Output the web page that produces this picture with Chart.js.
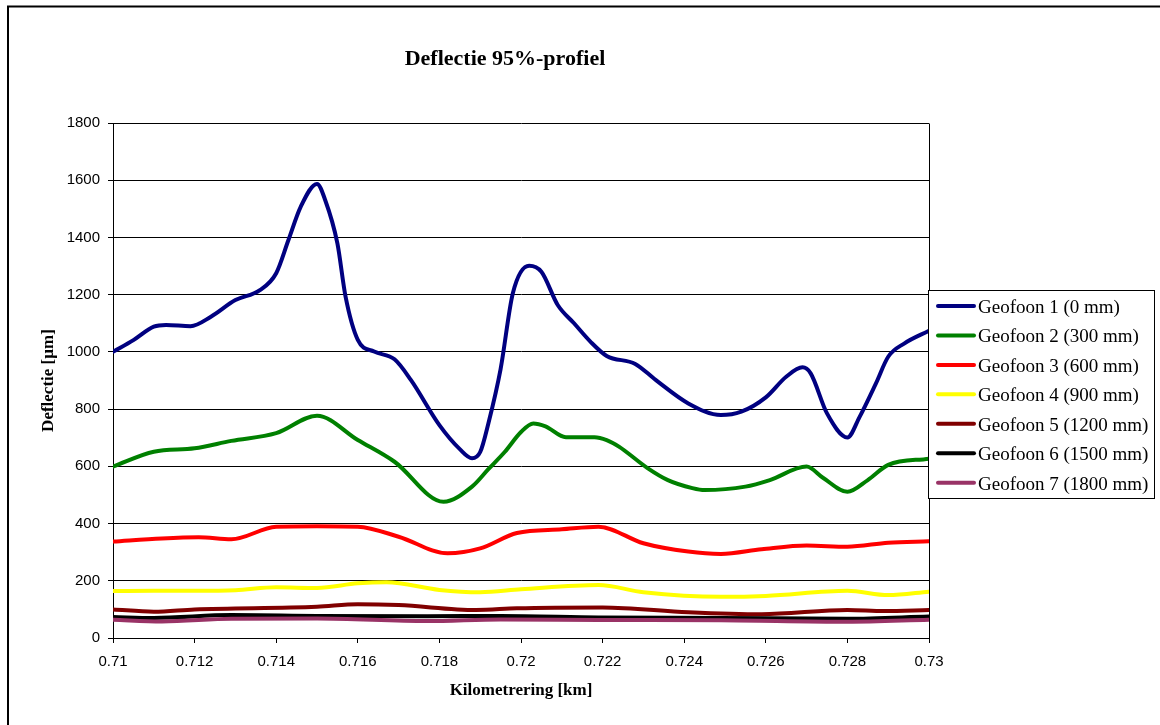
<!DOCTYPE html>
<html>
<head>
<meta charset="utf-8">
<title>Deflectie 95%-profiel</title>
<script src="https://cdn.jsdelivr.net/npm/chart.js@4/dist/chart.umd.min.js"></script>
<style>
  html, body { margin: 0; padding: 0; background: #ffffff; }
  canvas { display: block; }
</style>
</head>
<body>
<canvas id="chart" width="1160" height="725"></canvas>
<script>
// Axis ticks
const xTicks = [0.710, 0.712, 0.714, 0.716, 0.718, 0.720, 0.722, 0.724, 0.726, 0.728, 0.730];
const yTicks = [0, 200, 400, 600, 800, 1000, 1200, 1400, 1600, 1800];

// Geofoon 1 (0 mm)
const geo1Km = [0.7100, 0.7105, 0.7110, 0.7113, 0.7119, 0.7124, 0.7130, 0.7136, 0.7140, 0.7143,
                0.7146, 0.7150, 0.7152, 0.7155, 0.7157, 0.7160, 0.7164, 0.7169, 0.7173, 0.7180,
                0.7185, 0.7188, 0.7190, 0.7192, 0.7195, 0.7198, 0.7202, 0.7205, 0.7209,
                0.7213, 0.7217, 0.7221, 0.7228, 0.7233, 0.7241, 0.7249, 0.7254, 0.7260, 0.7265,
                0.7269, 0.7271, 0.7275, 0.7280, 0.7283, 0.7287, 0.7290, 0.7294, 0.7300];
const geo1Val = [1000, 1041, 1088, 1094, 1090, 1123, 1181, 1216, 1275, 1391,
                 1507, 1587, 1531, 1379, 1193, 1042, 1001, 974, 902, 744,
                 660, 628, 650, 750, 940, 1205, 1301, 1280, 1164,
                 1100, 1036, 986, 958, 902, 820, 779, 791, 841, 913,
                 946, 925, 785, 701, 773, 890, 983, 1030, 1074];

// Geofoon 2 (300 mm)
const geo2Km = [0.7100, 0.7110, 0.7120, 0.7129, 0.7140, 0.7150, 0.7160, 0.7169, 0.7181, 0.7188,
                0.7192, 0.7196, 0.7200, 0.7203, 0.7206, 0.7211, 0.7218, 0.7221, 0.7224, 0.7231,
                0.7236, 0.7242, 0.7245, 0.7255, 0.7261, 0.7270, 0.7274, 0.7280, 0.7285, 0.7290,
                0.7300];
const geo2Val = [599, 651, 663, 689, 716, 777, 692, 616, 476, 529,
                 590, 650, 720, 750, 740, 702, 702, 692, 669, 594,
                 552, 524, 517, 529, 552, 599, 560, 511, 552, 605,
                 627];

// Geofoon 3 (600 mm)
const geo3Km = [0.7100, 0.7112, 0.7121, 0.7129, 0.7140, 0.7150, 0.7160, 0.7170, 0.7182, 0.7190,
                0.7199, 0.7210, 0.7219, 0.7230, 0.7241, 0.7249, 0.7259, 0.7270, 0.7280, 0.7290,
                0.7300];
const geo3Val = [337, 348, 352, 345, 389, 391, 389, 354, 296, 313,
                 367, 380, 389, 331, 302, 294, 310, 323, 319, 333,
                 338];

// Geofoon 4 (900 mm)
const geo4Km = [0.7100, 0.7110, 0.7120, 0.7130, 0.7140, 0.7150, 0.7160, 0.7167, 0.7180, 0.7190,
                0.7200, 0.7219, 0.7230, 0.7249, 0.7260, 0.7280, 0.7290, 0.7300];
const geo4Val = [164, 165, 165, 167, 177, 175, 191, 195, 168, 160,
                 170, 185, 160, 144, 147, 165, 150, 162];

// Geofoon 5 (1200 mm)
const geo5Km = [0.7100, 0.7110, 0.7120, 0.7150, 0.7160, 0.7170, 0.7189, 0.7199, 0.7220, 0.7241,
                0.7259, 0.7280, 0.7289, 0.7300];
const geo5Val = [100, 92, 100, 109, 118, 115, 98, 104, 107, 90,
                 83, 98, 94, 98];

// Geofoon 6 (1500 mm)
const geo6Km = [0.7100, 0.7110, 0.7129, 0.7150, 0.7177, 0.7195, 0.7219, 0.7249, 0.7280, 0.7300];
const geo6Val = [73, 70, 80, 77, 76, 77, 72, 70, 67, 75];

// Geofoon 7 (1800 mm)
const geo7Km = [0.7100, 0.7112, 0.7129, 0.7150, 0.7177, 0.7195, 0.7219, 0.7249, 0.7280, 0.7300];
const geo7Val = [64, 58, 67, 68, 59, 65, 63, 62, 57, 64];

const seriesNames = [
  'Geofoon 1 (0 mm)', 'Geofoon 2 (300 mm)', 'Geofoon 3 (600 mm)', 'Geofoon 4 (900 mm)',
  'Geofoon 5 (1200 mm)', 'Geofoon 6 (1500 mm)', 'Geofoon 7 (1800 mm)'
];
const seriesKm = [geo1Km, geo2Km, geo3Km, geo4Km, geo5Km, geo6Km, geo7Km];
const seriesVal = [geo1Val, geo2Val, geo3Val, geo4Val, geo5Val, geo6Val, geo7Val];
const seriesColors = ['#000080', '#008000', '#ff0000', '#ffff00', '#800000', '#000000', '#993366'];

const SERIF = "'Liberation Serif', 'Times New Roman', serif";
const SANS = "'Liberation Sans', Arial, sans-serif";

const datasets = seriesNames.map((name, i) => ({
  label: name,
  data: seriesKm[i].map((km, j) => ({ x: km, y: seriesVal[i][j] })),
  borderColor: seriesColors[i],
  backgroundColor: seriesColors[i],
  borderWidth: 4,
  borderJoinStyle: 'round',
  borderCapStyle: 'round',
  cubicInterpolationMode: 'monotone',
  pointRadius: 0,
  fill: false,
  order: seriesNames.length - i
}));

// Frame, chart title and the boxed legend on the right
const decor = {
  id: 'decor',
  beforeDraw(chart) {
    const ctx = chart.ctx;
    ctx.save();
    ctx.fillStyle = '#ffffff';
    ctx.fillRect(0, 0, chart.width, chart.height);
    ctx.strokeStyle = '#000000';
    ctx.lineWidth = 2;
    ctx.beginPath();
    ctx.moveTo(8, chart.height + 2);
    ctx.lineTo(8, 6.5);
    ctx.lineTo(chart.width + 2, 6.5);
    ctx.stroke();
    ctx.restore();
  },
  afterDraw(chart) {
    const ctx = chart.ctx;
    const a = chart.chartArea;
    ctx.save();
    // plot-area frame on the right
    ctx.strokeStyle = '#000000';
    ctx.lineWidth = 1;
    ctx.beginPath();
    ctx.moveTo(Math.round(a.right) + 0.5, Math.round(a.top) + 0.5);
    ctx.lineTo(Math.round(a.right) + 0.5, Math.round(a.bottom) + 0.5);
    ctx.stroke();

    // title
    ctx.fillStyle = '#000000';
    ctx.font = 'bold 22px ' + SERIF;
    ctx.textAlign = 'center';
    ctx.textBaseline = 'alphabetic';
    ctx.fillText('Deflectie 95%-profiel', 505, 65);

    // legend
    const lx = 928.5, ly = 290.5, lw = 226, lh = 208;
    ctx.fillStyle = '#ffffff';
    ctx.fillRect(lx, ly, lw, lh);
    ctx.strokeStyle = '#000000';
    ctx.lineWidth = 1;
    ctx.strokeRect(lx, ly, lw, lh);
    ctx.font = '19px ' + SERIF;
    ctx.textAlign = 'left';
    chart.data.datasets.forEach((ds, i) => {
      const y = 306 + i * 29.45;
      ctx.strokeStyle = ds.borderColor;
      ctx.lineWidth = 4;
      ctx.lineCap = 'round';
      ctx.beginPath();
      ctx.moveTo(938, y);
      ctx.lineTo(974, y);
      ctx.stroke();
      ctx.fillStyle = '#000000';
      ctx.fillText(ds.label, 978, y + 7);
    });
    ctx.restore();
  }
};

const PAD_LEFT = 20, PAD_BOTTOM = 10;

new Chart(document.getElementById('chart'), {
  type: 'line',
  data: { datasets },
  options: {
    responsive: false,
    animation: false,
    devicePixelRatio: 1,
    layout: { padding: { left: PAD_LEFT, right: 231, top: 123, bottom: PAD_BOTTOM } },
    plugins: {
      legend: { display: false },
      title: { display: false },
      tooltip: { enabled: false }
    },
    scales: {
      x: {
        type: 'linear',
        min: 0.71,
        max: 0.73,
        afterBuildTicks: (s) => { s.ticks = xTicks.map(v => ({ value: v })); },
        afterFit: (s) => { s.height = 725 - PAD_BOTTOM - 638; },
        grid: { drawOnChartArea: false, drawTicks: true, tickLength: 5, color: '#000000', lineWidth: 1 },
        border: { display: true, color: '#000000', width: 1 },
        ticks: {
          autoSkip: false,
          maxRotation: 0,
          padding: 10,
          color: '#000000',
          font: { family: SANS, size: 15 },
          callback: (v) => String(parseFloat(Number(v).toFixed(3)))
        },
        title: {
          display: true,
          text: 'Kilometrering [km]',
          color: '#000000',
          font: { family: SERIF, size: 17, weight: 'bold' },
          padding: { top: 0, bottom: 14 }
        }
      },
      y: {
        min: 0,
        max: 1800,
        afterBuildTicks: (s) => { s.ticks = yTicks.map(v => ({ value: v })); },
        afterFit: (s) => { s.width = 113 - PAD_LEFT; },
        grid: { drawOnChartArea: true, drawTicks: true, tickLength: 5, color: '#000000', lineWidth: 1 },
        border: { display: true, color: '#000000', width: 1 },
        ticks: {
          padding: 8,
          color: '#000000',
          font: { family: SANS, size: 15 },
          callback: (v) => String(v)
        },
        title: {
          display: true,
          text: 'Deflectie [µm]',
          color: '#000000',
          font: { family: SERIF, size: 17, weight: 'bold' },
          padding: { top: 18, bottom: 0 }
        }
      }
    }
  },
  plugins: [decor]
});
</script>
</body>
</html>
